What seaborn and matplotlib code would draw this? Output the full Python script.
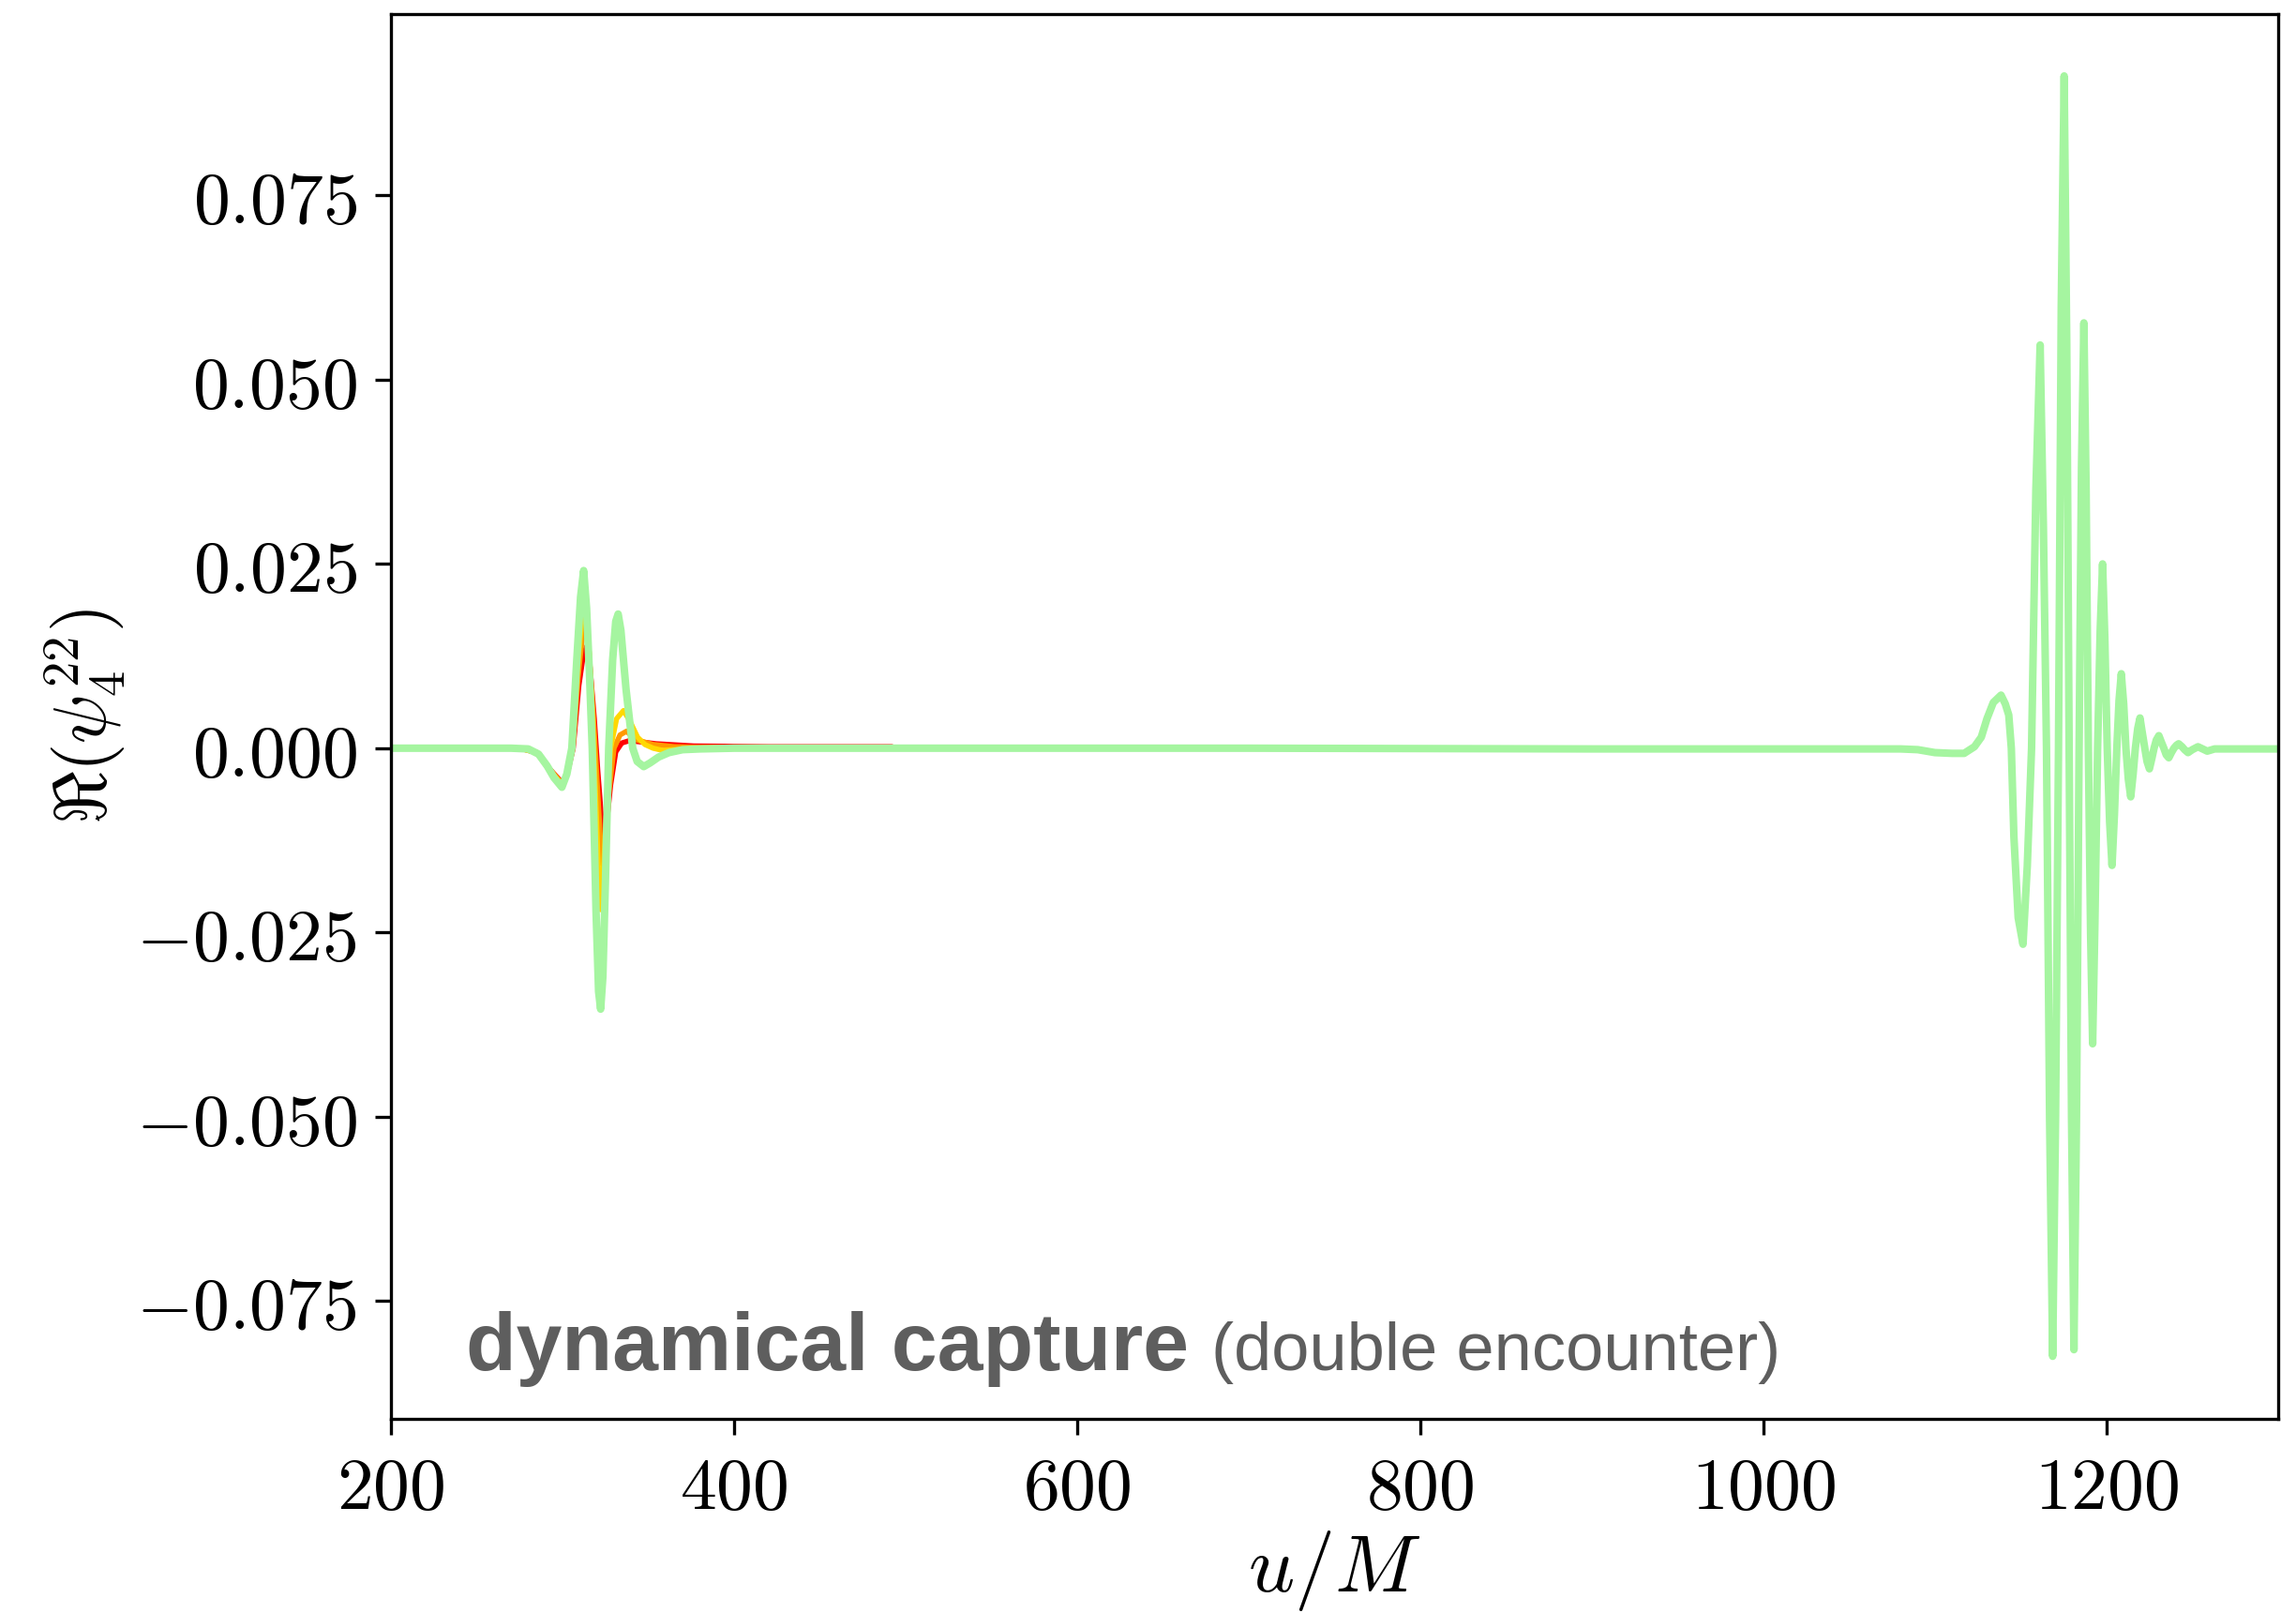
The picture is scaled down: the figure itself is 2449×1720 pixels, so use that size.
import matplotlib
matplotlib.use("Agg")
import matplotlib.pyplot as plt
import seaborn as sns
from matplotlib.ticker import FuncFormatter, FixedLocator

# ---------------- data ----------------
# green: full waveform (two bursts)
u_green = [200, 270, 280, 286, 291, 295, 299.6, 302.5, 305.4, 308.2, 310.5, 312.3, 314, 315.7,
           317.3, 319.5, 321, 322.2, 323.5, 325, 326.9, 329.2, 331, 332.4, 334, 337, 340.9,
           343.5, 347.3, 351, 356, 362, 370, 380, 400, 500, 700, 900, 1000, 1050, 1080,
           1090, 1100, 1110, 1117, 1123, 1127, 1130.3, 1134, 1138.5, 1141, 1143, 1144.5,
           1146, 1148.5, 1151.3, 1153.8, 1156.3, 1158.8, 1161.3, 1163.2, 1165, 1166.8,
           1168.6, 1170.3, 1172, 1173.6, 1175.3, 1176.8, 1178.2, 1179.6, 1181, 1182.5,
           1184, 1185.4, 1186.8, 1188.1, 1189.4, 1190.7, 1191.9, 1193.2, 1194.8, 1196.3,
           1197.7, 1199, 1200.4, 1201.8, 1203.2, 1204.6, 1206, 1207.3, 1208.6, 1210,
           1211.3, 1212.7, 1214.1, 1215.5, 1216.8, 1218.2, 1219.5, 1220.9, 1222.3, 1223.6,
           1225, 1226.4, 1227.7, 1229, 1230.5, 1232, 1233.4, 1234.8, 1236.3, 1237.8,
           1239.3, 1240.8, 1242, 1244, 1245.5, 1247.5, 1250, 1253.3, 1256, 1258.7, 1263,
           1270, 1300]
psi_green = [0.0, 0.0, -0.0001, -0.0008, -0.0024, -0.0040, -0.0053, -0.0035, 0.0, 0.0116,
             0.0205, 0.0241, 0.0190, 0.0100, 0.0, -0.0220, -0.0330, -0.0354, -0.0310,
             -0.0180, 0.0, 0.0120, 0.0172, 0.0182, 0.0160, 0.0080, 0.0, -0.0018, -0.0025,
             -0.0020, -0.0012, -0.0006, -0.0002, -0.0001, 0.0, 0.0, 0.0, -0.0001, -0.0001,
             -0.0001, -0.0001, -0.0002, -0.0006, -0.0007, -0.0007, 0.0002, 0.0015, 0.0040,
             0.0062, 0.0072, 0.0060, 0.0045, 0.0, -0.0120, -0.0230, -0.0266, -0.0160, 0.0,
             0.0350, 0.0547, 0.0300, 0.0, -0.0500, -0.0825, -0.0500, 0.0, 0.0600, 0.0912,
             0.0550, 0.0, -0.0500, -0.0816, -0.0500, 0.0, 0.0380, 0.0577, 0.0350, 0.0,
             -0.0250, -0.0401, -0.0240, 0.0, 0.0160, 0.0250, 0.0150, 0.0, -0.0100, -0.0159,
             -0.0090, 0.0, 0.0065, 0.0101, 0.0060, 0.0, -0.0042, -0.0066, -0.0035, 0.0,
             0.0027, 0.0041, 0.0020, 0.0, -0.0018, -0.0028, -0.0014, 0.0, 0.0011, 0.0017,
             0.0008, 0.0, -0.0009, -0.0013, -0.0006, 0.0, 0.0004, 0.0006, 0.0002, -0.0002,
             -0.0006, -0.0002, 0.0002, -0.0001, -0.0004, -0.0001, -0.0001, -0.0001]

# yellow / orange / red: first burst only
u_yellow = [200, 275, 285, 292, 299.8, 302.8, 305.6, 308.5, 311, 313, 315, 317.5, 319, 320.8,
            322.2, 323.5, 325.5, 328, 331.5, 335.5, 339, 343.7, 348, 352.8, 358.3, 365, 375,
            385, 492]
psi_yellow = [0.0, 0.0, -0.0006, -0.0028, -0.0050, -0.0032, 0.0, 0.0100, 0.0170, 0.0193,
              0.0150, 0.0040, -0.0050, -0.0160, -0.0219, -0.0180, -0.0090, 0.0, 0.0040,
              0.0051, 0.0038, 0.0015, 0.0005, 0.0, -0.0003, -0.0002, -0.0001, 0.0, 0.0]

u_orange = [200, 275, 285, 292, 300, 303, 306, 309, 311.5, 313.5, 315.5, 318, 320, 322,
            323.6, 325, 327, 330, 333.5, 337.3, 340.5, 343.7, 352.8, 365, 380, 492]
psi_orange = [0.0, 0.0, -0.0006, -0.0027, -0.0049, -0.0030, 0.0, 0.0095, 0.0150, 0.0167,
              0.0130, 0.0040, -0.0040, -0.0120, -0.0159, -0.0130, -0.0060, 0.0, 0.0018,
              0.0023, 0.0016, 0.0011, 0.0005, 0.0002, 0.0001, 0.0001]

u_red = [200, 275, 285, 292, 300.2, 303.2, 306.2, 309.5, 312, 314, 316, 318.5, 320.5, 322.5,
         324.5, 326, 328, 331, 334.5, 338.6, 343.7, 354.6, 376.5, 420, 492]
psi_red = [0.0, 0.0, -0.0006, -0.0027, -0.0048, -0.0030, 0.0, 0.0085, 0.0125, 0.0138,
           0.0110, 0.0040, -0.0030, -0.0090, -0.0119, -0.0095, -0.0050, -0.0005, 0.0007,
           0.0010, 0.0009, 0.0006, 0.0003, 0.0002, 0.0002]

x_ticks = [200, 400, 600, 800, 1000, 1200]
y_ticks = [-0.075, -0.050, -0.025, 0.000, 0.025, 0.050, 0.075]
label_main = "dynamical capture"
label_sub = "(double encounter)"

# ---------------- styling ----------------
sns.set_style("ticks")
plt.rcParams["mathtext.fontset"] = "cm"
plt.rcParams["font.family"] = ["DejaVu Sans"]
plt.rcParams["lines.solid_joinstyle"] = "round"
plt.rcParams["lines.solid_capstyle"] = "round"

fig = plt.figure(figsize=(12.245, 8.6), dpi=200)
ax = fig.add_axes([0.1703, 0.1203, 0.9922 - 0.1703, 0.9913 - 0.1203])

series = [
    (u_red, psi_red, "#ff0000", 2.0),
    (u_orange, psi_orange, "#ff9900", 2.0),
    (u_yellow, psi_yellow, "#ffd800", 2.0),
    (u_green, psi_green, "#a5f5a0", 2.9),
]
for xs, ys, col, lw in series:
    sns.lineplot(x=xs, y=ys, color=col, linewidth=lw, ax=ax, estimator=None, sort=False)

ax.set_xlim(200, 1300)
ax.set_ylim(-0.0910, 0.0996)
ax.xaxis.set_major_locator(FixedLocator(x_ticks))
ax.yaxis.set_major_locator(FixedLocator(y_ticks))
ax.xaxis.set_major_formatter(FuncFormatter(lambda v, p: r"$%d$" % round(v)))
ax.yaxis.set_major_formatter(FuncFormatter(lambda v, p: r"$%.3f$" % v))
ax.tick_params(axis="both", which="major", labelsize=28, length=6, width=1.2,
               direction="out", color="black", labelcolor="black", pad=7)
for s in ax.spines.values():
    s.set_visible(True)
    s.set_color("black")
    s.set_linewidth(1.2)

ax.set_xlabel(r"$u/M$", fontsize=31, color="black")
ax.set_ylabel(r"$\Re(\psi_4^{22})$", fontsize=28, color="black")
ax.xaxis.set_label_coords(0.5, -0.078)
ax.yaxis.set_label_coords(-0.139, 0.5)

t1 = ax.text(0.0397, 0.0348, label_main, transform=ax.transAxes, fontsize=31.6,
             fontweight="bold", family=["Liberation Sans", "DejaVu Sans"],
             color="#5e5e5e", va="baseline", ha="left")
fig.canvas.draw()
bb = t1.get_window_extent(fig.canvas.get_renderer())
x2 = ax.transAxes.inverted().transform((bb.x1 + 24, bb.y0))[0]
ax.text(x2, 0.0348, label_sub, transform=ax.transAxes, fontsize=26,
        family=["Liberation Sans", "DejaVu Sans"], color="#5e5e5e",
        va="baseline", ha="left")

fig.savefig("out.png", dpi=200, facecolor="white")
